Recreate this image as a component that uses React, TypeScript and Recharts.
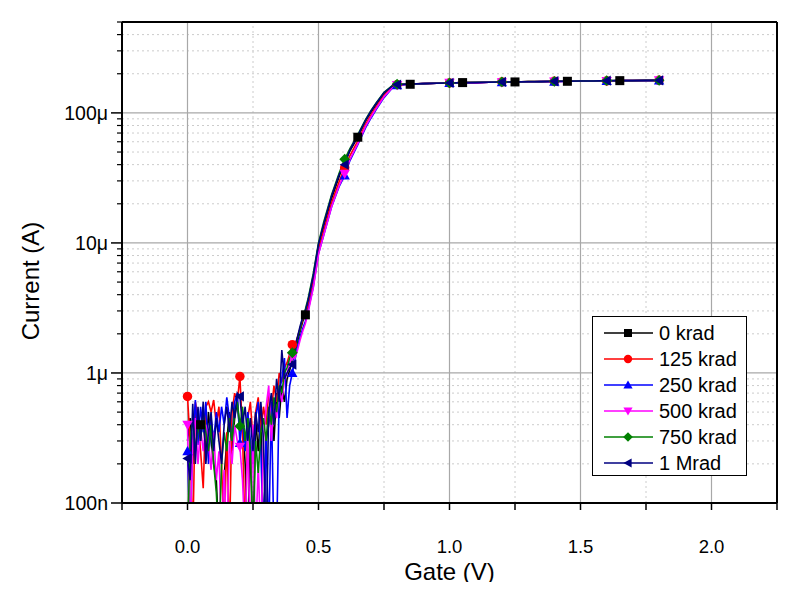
import React from 'react';
import { LineChart, Line, XAxis, YAxis, ReferenceLine, Legend } from 'recharts';

const FONT = 'Arial, "Liberation Sans", sans-serif';

// Gate voltage (V)
const GATE = [
  0, 0.01, 0.02, 0.03, 0.04, 0.05, 0.06, 0.07, 0.08, 0.09,
  0.1, 0.11, 0.12, 0.13, 0.14, 0.15, 0.16, 0.17, 0.18, 0.19,
  0.2, 0.21, 0.22, 0.23, 0.24, 0.25, 0.26, 0.27, 0.28, 0.29,
  0.3, 0.31, 0.32, 0.33, 0.34, 0.35, 0.36, 0.37, 0.38, 0.39,
  0.4, 0.41, 0.42, 0.43, 0.44,
  0.45, 0.46, 0.48, 0.5, 0.52, 0.55, 0.58, 0.6, 0.62, 0.65, 0.68, 0.7, 0.72, 0.75, 0.78,
  0.8, 0.85, 0.9, 0.95, 1, 1.05, 1.1, 1.15, 1.2, 1.25, 1.3, 1.35, 1.4, 1.45, 1.5,
  1.55, 1.6, 1.65, 1.7, 1.75, 1.8,
];

// Currents in microamps (values below 0.1 fall under the plotted range)
const I_0KRAD = [
  0.3, 0.45, 0.2, 0.55, 0.35, 0.4, 0.42, 0.25, 0.5, 0.3,
  0.2, 0.15, 0.05, 0.05, 0.16, 0.3, 0.5, 0.25, 0.45, 0.6,
  0.35, 0.5, 0.2, 0.05, 0.3, 0.05, 0.45, 0.25, 0.55, 0.05,
  0.3, 0.4, 0.6, 0.3, 0.7, 0.45, 0.8, 0.6, 0.9, 1.05,
  1.25, 1.45, 1.75, 2.1, 2.5,
  2.8, 3.4, 5.3, 9.6, 13.5, 22, 33, 42, 51, 65, 87, 101, 116, 141, 160,
  164, 166, 168, 169, 170, 171, 171, 172, 172, 173, 173, 174, 174, 175, 175,
  176, 176, 177, 177, 177, 178,
];
const I_125KRAD = [
  0.66, 0.3, 0.05, 0.6, 0.45, 0.25, 0.13, 0.55, 0.6, 0.5,
  0.62, 0.4, 0.55, 0.2, 0.05, 0.35, 0.05, 0.5, 0.7, 0.6,
  0.94, 0.35, 0.05, 0.45, 0.6, 0.3, 0.5, 0.65, 0.35, 0.55,
  0.4, 0.7, 0.5, 0.8, 0.6, 1.0, 0.85, 1.1, 1.2, 1.4,
  1.65, 1.6, 1.9, 2.2, 2.6,
  2.9, 3.3, 5.0, 9.0, 12.5, 20.5, 30, 38, 47, 61, 82, 96, 111, 136, 157,
  165, 167, 168, 169, 170, 171, 171, 172, 173, 173, 174, 174, 175, 175, 176,
  176, 176, 177, 177, 178, 178,
];
const I_250KRAD = [
  0.25, 0.05, 0.3, 0.62, 0.28, 0.55, 0.35, 0.6, 0.2, 0.45,
  0.3, 0.5, 0.35, 0.55, 0.4, 0.65, 0.45, 0.3, 0.6, 0.7,
  0.29, 0.45, 0.25, 0.5, 0.3, 0.2, 0.45, 0.6, 0.25, 0.05,
  0.35, 0.05, 0.6, 0.05, 0.05, 0.7, 0.9, 1.3, 0.45, 0.8,
  1.0, 1.25, 1.6, 1.9, 2.2,
  2.5, 3.0, 4.6, 8.3, 11.5, 19, 27.5, 33, 43, 57, 77, 91, 106, 131, 154,
  163, 166, 168, 169, 170, 170, 171, 172, 172, 173, 173, 174, 174, 175, 175,
  176, 176, 177, 177, 177, 178,
];
const I_500KRAD = [
  0.4, 0.05, 0.3, 0.45, 0.2, 0.38, 0.25, 0.4, 0.3, 0.18,
  0.35, 0.15, 0.25, 0.05, 0.18, 0.05, 0.3, 0.2, 0.4, 0.3,
  0.27, 0.15, 0.05, 0.35, 0.05, 0.4, 0.05, 0.2, 0.05, 0.3,
  0.55, 0.8, 0.3, 0.6, 0.45, 0.75, 0.6, 0.9, 1.0, 1.2,
  1.35, 1.3, 1.5, 1.8, 2.1,
  2.4, 2.9, 4.5, 8.2, 11.5, 19, 28, 34, 44, 58, 79, 93, 108, 133, 155,
  164, 166, 168, 169, 170, 171, 171, 172, 172, 173, 173, 174, 174, 175, 175,
  176, 176, 177, 177, 178, 178,
];
const I_750KRAD = [
  0.05, 0.3, 0.45, 0.25, 0.4, 0.3, 0.5, 0.35, 0.25, 0.4,
  0.2, 0.12, 0.05, 0.2, 0.35, 0.25, 0.45, 0.3, 0.5, 0.6,
  0.39, 0.55, 0.3, 0.45, 0.25, 0.05, 0.3, 0.17, 0.35, 0.45,
  0.3, 0.55, 0.4, 0.65, 0.5, 0.8, 0.7, 1.0, 1.1, 1.3,
  1.43, 1.5, 1.85, 2.2, 2.7,
  3.1, 3.7, 5.8, 10, 14.5, 23.5, 35, 44, 53, 68, 89, 104, 119, 144, 161,
  166, 167, 168, 169, 170, 171, 172, 172, 173, 173, 174, 174, 175, 175, 176,
  176, 177, 177, 177, 178, 178,
];
const I_1MRAD = [
  0.22, 0.15, 0.58, 0.2, 0.55, 0.3, 0.6, 0.2, 0.35, 0.5,
  0.25, 0.45, 0.3, 0.2, 0.4, 0.55, 0.35, 0.6, 0.45, 0.7,
  0.66, 0.4, 0.55, 0.3, 0.45, 0.25, 0.5, 0.35, 0.6, 0.3,
  0.05, 0.5, 0.7, 0.4, 0.9, 0.6, 1.5, 0.9, 1.0, 1.1,
  1.16, 1.6, 1.9, 2.3, 2.7,
  3.0, 3.6, 5.6, 9.8, 14, 23, 34, 40, 52, 67, 88, 103, 118, 143, 160,
  165, 167, 168, 169, 170, 171, 171, 172, 173, 173, 174, 174, 175, 175, 176,
  176, 177, 177, 177, 178, 178,
];

// Gate voltages where symbols are drawn
const MARKS_A = [0, 0.2, 0.4, 0.6, 0.8, 1.0, 1.2, 1.4, 1.6, 1.8];
const MARKS_B = [0.05, 0.25, 0.45, 0.65, 0.85, 1.05, 1.25, 1.45, 1.65];

const SERIES = [
  { key: 's0', name: '0 krad', color: '#000000', shape: 'square', values: I_0KRAD, marks: MARKS_B },
  { key: 's1', name: '125 krad', color: '#ff0000', shape: 'circle', values: I_125KRAD, marks: MARKS_A },
  { key: 's2', name: '250 krad', color: '#0000ff', shape: 'up', values: I_250KRAD, marks: MARKS_A },
  { key: 's3', name: '500 krad', color: '#ff00ff', shape: 'down', values: I_500KRAD, marks: MARKS_A },
  { key: 's4', name: '750 krad', color: '#008000', shape: 'diamond', values: I_750KRAD, marks: MARKS_A },
  { key: 's5', name: '1 Mrad', color: '#000080', shape: 'left', values: I_1MRAD, marks: MARKS_A },
];

const X_TICKS = [-0.25, 0, 0.25, 0.5, 0.75, 1, 1.25, 1.5, 1.75, 2, 2.25];
const X_LABELED = [0, 0.5, 1, 1.5, 2];
const X_MAJOR_GRID = [0, 0.5, 1, 1.5, 2];
const X_MINOR_GRID = [0.25, 0.75, 1.25, 1.75];

const Y_MAJOR = [1e-7, 1e-6, 1e-5, 1e-4];
const Y_MAJOR_LABELS = ['100n', '1\u03bc', '10\u03bc', '100\u03bc'];
const Y_MINOR = [
  2e-7, 3e-7, 4e-7, 5e-7, 6e-7, 7e-7, 8e-7, 9e-7,
  2e-6, 3e-6, 4e-6, 5e-6, 6e-6, 7e-6, 8e-6, 9e-6,
  2e-5, 3e-5, 4e-5, 5e-5, 6e-5, 7e-5, 8e-5, 9e-5,
  2e-4, 3e-4, 4e-4, 5e-4,
];
const Y_TICKS = [...Y_MAJOR, ...Y_MINOR].sort((a, b) => a - b);

const data = GATE.map((x, i) => {
  const row: any = { x };
  SERIES.forEach((s) => {
    row[s.key] = s.values[i] * 1e-6;
  });
  return row;
});

function Marker({ shape, cx, cy, color, size }: any) {
  const r = size / 2;
  switch (shape) {
    case 'square':
      return <rect x={cx - r} y={cy - r} width={size} height={size} fill={color} />;
    case 'circle':
      return <circle cx={cx} cy={cy} r={r * 1.05} fill={color} />;
    case 'up':
      return <polygon points={`${cx},${cy - r * 1.15} ${cx + r * 1.15},${cy + r * 0.9} ${cx - r * 1.15},${cy + r * 0.9}`} fill={color} />;
    case 'down':
      return <polygon points={`${cx},${cy + r * 1.15} ${cx + r * 1.15},${cy - r * 0.9} ${cx - r * 1.15},${cy - r * 0.9}`} fill={color} />;
    case 'diamond':
      return <polygon points={`${cx},${cy - r * 1.2} ${cx + r * 1.2},${cy} ${cx},${cy + r * 1.2} ${cx - r * 1.2},${cy}`} fill={color} />;
    case 'left':
      return <polygon points={`${cx - r * 1.15},${cy} ${cx + r * 0.9},${cy - r * 1.15} ${cx + r * 0.9},${cy + r * 1.15}`} fill={color} />;
    default:
      return null;
  }
}

const makeDot = (s: any) => (props: any) => {
  const { cx, cy, payload, index } = props;
  const k = `${s.key}-dot-${index}`;
  const v = payload ? payload[s.key] : undefined;
  if (
    cx == null || cy == null || v == null || v < 1e-7 ||
    !s.marks.some((m: number) => Math.abs(m - payload.x) < 1e-6)
  ) {
    return <g key={k} />;
  }
  return (
    <g key={k}>
      <Marker shape={s.shape} cx={cx} cy={cy} color={s.color} size={9} />
    </g>
  );
};

const YTick = (props: any) => {
  const { x, y, payload } = props;
  const v = payload.value;
  const mi = Y_MAJOR.findIndex((m) => Math.abs(m - v) / m < 1e-6);
  if (mi >= 0) {
    return (
      <g>
        <line x1={x - 11} x2={x} y1={y} y2={y} stroke="#000" strokeWidth={1.5} />
        <text x={x - 14} y={y} dy="0.36em" textAnchor="end" fontSize={19.5} fontFamily={FONT} fill="#000">
          {Y_MAJOR_LABELS[mi]}
        </text>
      </g>
    );
  }
  return <line x1={x - 5} x2={x} y1={y} y2={y} stroke="#000" strokeWidth={1.2} />;
};

const LegendBox = () => (
  <svg width={155} height={160} style={{ display: 'block' }}>
    <rect x={0.5} y={0.5} width={154} height={159} fill="#ffffff" stroke="#000" strokeWidth={1} />
    {SERIES.map((s, i) => {
      const cy = 17 + i * 26;
      return (
        <g key={s.key}>
          <line x1={12} x2={61} y1={cy} y2={cy} stroke={s.color} strokeWidth={1.5} />
          <Marker shape={s.shape} cx={36} cy={cy} color={s.color} size={8} />
          <text x={67} y={cy} dy="0.36em" fontSize={20} fontFamily={FONT} fill="#000">
            {s.name}
          </text>
        </g>
      );
    })}
  </svg>
);

export default function App() {
  return (
    <div style={{ width: 787, height: 574 }}>
      <LineChart
        width={787}
        height={582}
        data={data}
        margin={{ top: 14, right: 18, bottom: 0, left: 0 }}
      >
        {X_MINOR_GRID.map((v) => (
          <ReferenceLine key={`xm${v}`} x={v} stroke="#cccccc" strokeDasharray="2 3" strokeWidth={1} ifOverflow="visible" />
        ))}
        {Y_MINOR.map((v) => (
          <ReferenceLine key={`ym${v}`} y={v} stroke="#cccccc" strokeDasharray="2 3" strokeWidth={1} ifOverflow="visible" />
        ))}
        {X_MAJOR_GRID.map((v) => (
          <ReferenceLine key={`xM${v}`} x={v} stroke="#a8a8a8" strokeWidth={1.2} ifOverflow="visible" />
        ))}
        {Y_MAJOR.map((v) => (
          <ReferenceLine key={`yM${v}`} y={v} stroke="#a8a8a8" strokeWidth={1.2} ifOverflow="visible" />
        ))}
        <XAxis
          dataKey="x"
          type="number"
          domain={[-0.25, 2.25]}
          ticks={X_TICKS}
          interval={0}
          allowDataOverflow
          height={87}
          tickSize={7}
          tickMargin={30}
          axisLine={{ stroke: '#000', strokeWidth: 2 }}
          tickLine={{ stroke: '#000', strokeWidth: 1.5 }}
          tick={{ fontSize: 18.5, fill: '#000', fontFamily: FONT }}
          tickFormatter={(v: number) =>
            X_LABELED.some((m) => Math.abs(m - v) < 1e-9) ? v.toFixed(1) : ''
          }
          label={{
            content: (p: any) => {
              const vb = p.viewBox || {};
              return (
                <text
                  x={vb.x + vb.width / 2}
                  y={vb.y + 77}
                  textAnchor="middle"
                  fontSize={24}
                  fontFamily={FONT}
                  fill="#000"
                >
                  Gate (V)
                </text>
              );
            },
          }}
        />
        <YAxis
          type="number"
          scale="log"
          domain={[1e-7, 5e-4]}
          ticks={Y_TICKS}
          interval={0}
          allowDataOverflow
          width={114}
          tickSize={0}
          tickMargin={0}
          tickLine={false}
          axisLine={{ stroke: '#000', strokeWidth: 2 }}
          tick={<YTick />}
          label={{
            content: () => (
              <text
                x={31}
                y={273}
                transform="rotate(-90 31 273)"
                textAnchor="middle"
                fontSize={24}
                fontFamily={FONT}
                fill="#000"
              >
                Current (A)
              </text>
            ),
          }}
        />
        <ReferenceLine y={5e-4} stroke="#000" strokeWidth={2} ifOverflow="visible" />
        <ReferenceLine x={2.25} stroke="#000" strokeWidth={2} ifOverflow="visible" />
        {SERIES.map((s) => (
          <Line
            key={s.key}
            dataKey={s.key}
            name={s.name}
            type="linear"
            stroke={s.color}
            strokeWidth={1.6}
            dot={makeDot(s)}
            activeDot={false}
            isAnimationActive={false}
          />
        ))}
        <Legend
          verticalAlign="middle"
          align="center"
          layout="horizontal"
          wrapperStyle={{ position: 'absolute', left: 584, top: 308, width: 155, height: 160 }}
          content={() => <LegendBox />}
        />
      </LineChart>
    </div>
  );
}
